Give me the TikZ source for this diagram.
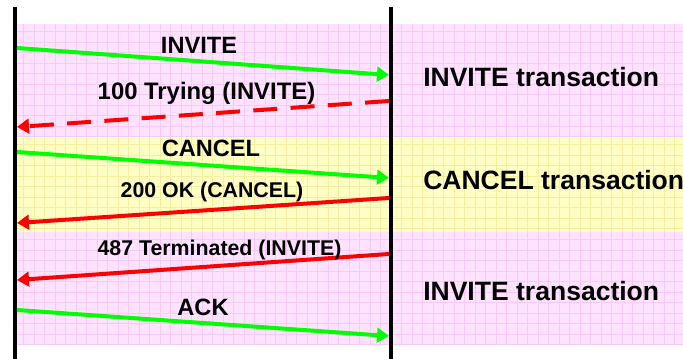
\documentclass[tikz,border=0pt]{standalone}
\usepackage{fontspec}
\setmainfont{Liberation Sans}
\usetikzlibrary{arrows.meta}

\definecolor{bandpink}{RGB}{255,226,255}
\definecolor{gridpink}{RGB}{248,202,248}
\definecolor{bandyellow}{RGB}{255,255,196}
\definecolor{gridyellow}{RGB}{245,238,160}
\definecolor{msggreen}{RGB}{0,255,0}
\definecolor{msgred}{RGB}{255,0,0}

\tikzset{
  lifeline/.style={line width=3pt, black},
  request/.style={line width=3pt, msggreen, -{Triangle[length=9pt,width=11pt]}},
  response/.style={line width=3pt, msgred, -{Triangle[length=9pt,width=11pt]}},
  provisional/.style={response, dash pattern=on 18pt off 10pt},
  msglabel/.style={anchor=base, inner sep=0pt, font=\bfseries\fontsize{17.7}{20}\selectfont},
  rsplabel/.style={anchor=base, inner sep=0pt, font=\bfseries\fontsize{16}{19}\selectfont},
  txlabel/.style={anchor=base west, inner sep=0pt, font=\bfseries\fontsize{19.9}{23}\selectfont},
}

\begin{document}
\begin{tikzpicture}[x=0.75pt, y=-0.75pt]
  \useasboundingbox (0,0) rectangle (683,359);
  \fill[white] (0,0) rectangle (683,359);

  % transaction bands with a light grid
  \foreach \top/\bot/\bg/\gr in {24/137/bandpink/gridpink,
                                 137/232/bandyellow/gridyellow,
                                 232/345/bandpink/gridpink}{
    \begin{scope}
      \clip (15,\top) rectangle (683,\bot);
      \fill[\bg] (15,\top) rectangle (683,\bot);
      \foreach \x in {23.7,34.2,...,683}
        \draw[\gr, line width=0.4pt] (\x,\top) -- (\x,\bot);
      \foreach \y in {-3,7.5,...,120}
        \draw[\gr, line width=0.4pt] (15,\top+\y) -- (683,\top+\y);
    \end{scope}
  }

  % lifelines
  \coordinate (uacTop) at (15,7);
  \coordinate (uacBot) at (15,359);
  \coordinate (uasTop) at (391,7);
  \coordinate (uasBot) at (391,359);
  \draw[lifeline] (uacTop) -- (uacBot);
  \draw[lifeline] (uasTop) -- (uasBot);

  % message end points
  \coordinate (inviteA) at (17,48);   \coordinate (inviteB) at (389,75);
  \coordinate (tryingA) at (389,101); \coordinate (tryingB) at (17,127);
  \coordinate (cancelA) at (17,152);  \coordinate (cancelB) at (389,178);
  \coordinate (okA) at (389,198);     \coordinate (okB) at (17,223);
  \coordinate (termA) at (389,254);   \coordinate (termB) at (17,280);
  \coordinate (ackA) at (17,310);     \coordinate (ackB) at (389,336);

  % messages
  \draw[request] (inviteA) -- (inviteB);
  \draw[provisional] (tryingA) -- (tryingB);
  \draw[request] (cancelA) -- (cancelB);
  \draw[response] (okA) -- (okB);
  \draw[response] (termA) -- (termB);
  \draw[request] (ackA) -- (ackB);

  % message labels
  \node[msglabel] (lInvite) at (199,54) {INVITE};
  \node[msglabel, font=\bfseries\fontsize{17.9}{20}\selectfont] (lTrying) at (206.5,100) {100 Trying (INVITE)};
  \node[msglabel] (lCancel) at (211,157) {CANCEL};
  \node[rsplabel] (lOk) at (212,198) {200 OK (CANCEL)};
  \node[rsplabel] (lTerm) at (219.5,256) {487 Terminated (INVITE)};
  \node[msglabel] (lAck) at (203,316) {ACK};

  % transaction labels
  \node[txlabel] (tx1) at (423,87) {INVITE transaction};
  \node[txlabel] (tx2) at (423,190) {CANCEL transaction};
  \node[txlabel] (tx3) at (423,301) {INVITE transaction};
\end{tikzpicture}
\end{document}
